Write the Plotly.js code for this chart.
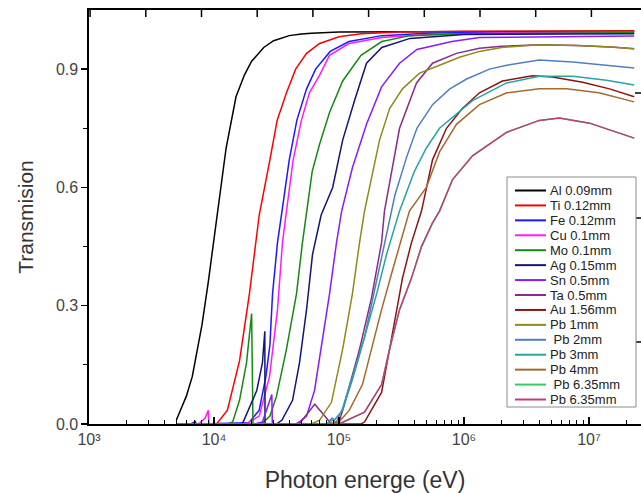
<!DOCTYPE html>
<html><head><meta charset="utf-8">
<script src="https://cdn.plot.ly/plotly-3.0.1.min.js"></script>
<style>html,body{margin:0;padding:0;background:#fff}#chart{width:641px;height:493px}</style>
</head><body><div id="chart"></div>
<script>
// ---- data (photon energy in eV, transmission) ----
const E_Al = [5e3, 6e3, 6.7e3, 7.4e3, 8e3, 9e3, 1e4, 1.05e4, 1.25e4, 1.5e4, 1.75e4, 2e4, 2.25e4, 2.5e4, 3e4, 3.5e4, 4e4, 5e4, 6e4, 1e5, 1e6, 2.3e7];
const T_Al = [0.01, 0.07, 0.12, 0.19, 0.25, 0.36, 0.47, 0.53, 0.70, 0.83, 0.885, 0.92, 0.94, 0.955, 0.972, 0.98, 0.985, 0.989, 0.991, 0.994, 0.996, 0.997];

const E_Ti = [5e3, 1.05e4, 1.28e4, 1.6e4, 1.92e4, 2.3e4, 2.8e4, 3.2e4, 3.8e4, 4.5e4, 5.5e4, 7e4, 1e5, 1.5e5, 3e5, 1e6, 2.3e7];
const T_Ti = [0, 0, 0.035, 0.16, 0.33, 0.53, 0.67, 0.77, 0.84, 0.90, 0.94, 0.965, 0.982, 0.99, 0.994, 0.996, 0.997];

const E_Fe = [5e3, 6.5e3, 7.1e3, 7.2e3, 1.9e4, 2.3e4, 2.6e4, 2.8e4, 2.94e4, 3.22e4, 3.5e4, 4e4, 4.6e4, 5.5e4, 6.5e4, 8.5e4, 1.2e5, 2.2e5, 5e5, 2e6, 2.3e7];
const T_Fe = [0, 0, 0.006, 0, 0.003, 0.035, 0.12, 0.2, 0.33, 0.46, 0.54, 0.67, 0.77, 0.85, 0.90, 0.945, 0.97, 0.985, 0.991, 0.994, 0.995];

const E_Cu = [5e3, 7.5e3, 8.5e3, 9e3, 9.1e3, 1.8e4, 2.3e4, 2.78e4, 3.22e4, 3.53e4, 3.8e4, 4.3e4, 5e4, 5.8e4, 7e4, 8.4e4, 1.2e5, 2.2e5, 5e5, 2e6, 2.3e7];
const T_Cu = [0, 0, 0.015, 0.035, 0, 0, 0.02, 0.12, 0.29, 0.46, 0.54, 0.67, 0.77, 0.84, 0.885, 0.935, 0.965, 0.98, 0.988, 0.992, 0.994];

const E_Mo = [5e3, 1.3e4, 1.41e4, 1.6e4, 1.82e4, 2e4, 2.05e4, 2.4e4, 2.8e4, 3.16e4, 3.8e4, 4.57e4, 5.1e4, 5.6e4, 6.1e4, 7e4, 8.4e4, 1.07e5, 1.5e5, 2.2e5, 3.7e5, 1e6, 2.3e7];
const T_Mo = [0, 0, 0.005, 0.06, 0.155, 0.28, 0, 0, 0.02, 0.07, 0.19, 0.33, 0.46, 0.55, 0.64, 0.71, 0.79, 0.87, 0.935, 0.97, 0.985, 0.99, 0.992];

const E_Ag = [5e3, 1.6e4, 1.7e4, 2.2e4, 2.44e4, 2.55e4, 2.56e4, 3.16e4, 3.5e4, 4.25e4, 4.83e4, 5.5e4, 6.14e4, 7.2e4, 8.9e4, 1.07e5, 1.33e5, 1.66e5, 2.2e5, 3.7e5, 1e6, 2.3e7];
const T_Ag = [0, 0, 0.003, 0.085, 0.155, 0.235, 0, 0, 0.01, 0.06, 0.155, 0.29, 0.43, 0.53, 0.60, 0.72, 0.82, 0.915, 0.955, 0.978, 0.988, 0.99];

const E_Sn = [5e3, 2.1e4, 2.44e4, 2.9e4, 2.93e4, 4.5e4, 4.83e4, 5.5e4, 6.37e4, 7.24e4, 8.4e4, 9.55e4, 1.05e5, 1.28e5, 1.66e5, 2.19e5, 3.05e5, 4.2e5, 8e5, 1.33e6, 2.3e7];
const T_Sn = [0, 0, 0.005, 0.075, 0, 0, 0.005, 0.02, 0.085, 0.2, 0.33, 0.46, 0.54, 0.65, 0.76, 0.855, 0.915, 0.95, 0.97, 0.98, 0.984];

const E_Ta = [5e3, 4.8e4, 6.4e4, 8.7e4, 1e5, 1.07e5, 1.46e5, 1.82e5, 2.19e5, 2.31e5, 3.05e5, 4.17e5, 5.6e5, 8.7e5, 1.33e6, 2e6, 4e6, 8e6, 1.5e7, 2.3e7];
const T_Ta = [0, 0, 0.05, 0, 0.005, 0.035, 0.19, 0.32, 0.46, 0.54, 0.75, 0.865, 0.915, 0.94, 0.953, 0.958, 0.962, 0.96, 0.956, 0.952];

const E_Au = [5e3, 1.5e5, 1.6e5, 2.19e5, 2.54e5, 2.88e5, 3.22e5, 3.8e5, 4.57e5, 5.6e5, 7.24e5, 9.7e5, 1.33e6, 2.03e6, 3.53e6, 5.1e6, 8.9e6, 1.46e7, 2.3e7];
const T_Au = [0, 0, 0.005, 0.08, 0.19, 0.29, 0.37, 0.46, 0.54, 0.67, 0.75, 0.80, 0.84, 0.87, 0.883, 0.88, 0.867, 0.85, 0.83];

const E_Pb1 = [5e3, 6e4, 7e4, 8.7e4, 1.07e5, 1.28e5, 1.46e5, 1.6e5, 2.11e5, 2.54e5, 3.22e5, 4.41e5, 6.37e5, 9.2e5, 1.33e6, 2e6, 4e6, 8e6, 1.5e7, 2.3e7];
const T_Pb1 = [0, 0, 0.01, 0.055, 0.19, 0.33, 0.46, 0.54, 0.72, 0.80, 0.85, 0.89, 0.91, 0.93, 0.945, 0.955, 0.962, 0.96, 0.956, 0.952];

const E_Pb2 = [5e3, 8e4, 8.8e4, 9.2e4, 1.07e5, 1.3e5, 1.6e5, 1.9e5, 2.3e5, 2.8e5, 3.5e5, 4.2e5, 5.6e5, 7.7e5, 1.05e6, 1.6e6, 2.2e6, 4e6, 7.4e6, 1.3e7, 2.3e7];
const T_Pb2 = [0, 0, 0.015, 0.01, 0.035, 0.12, 0.22, 0.33, 0.46, 0.58, 0.68, 0.75, 0.81, 0.85, 0.875, 0.90, 0.91, 0.923, 0.918, 0.91, 0.903];

const E_Pb3 = [5e3, 8e4, 8.8e4, 9.5e4, 1.07e5, 1.28e5, 1.6e5, 2e5, 2.4e5, 3.05e5, 4e5, 5e5, 6.37e5, 1.17e6, 2.19e6, 4e6, 7.4e6, 1.38e7, 2.3e7];
const T_Pb3 = [0, 0, 0.01, 0.005, 0.04, 0.12, 0.22, 0.33, 0.43, 0.54, 0.64, 0.70, 0.75, 0.82, 0.865, 0.882, 0.882, 0.872, 0.86];

const E_Pb4 = [5e3, 8e4, 1e5, 1.21e5, 1.54e5, 1.82e5, 2.19e5, 2.68e5, 3.22e5, 3.66e5, 5e5, 6.37e5, 8.7e5, 1.33e6, 2.2e6, 4e6, 6.6e6, 1.2e7, 2.3e7];
const T_Pb4 = [0, 0, 0.005, 0.035, 0.10, 0.19, 0.29, 0.39, 0.48, 0.54, 0.60, 0.69, 0.76, 0.81, 0.84, 0.85, 0.85, 0.84, 0.817];

const E_Pb6 = [5e3, 1e5, 1.6e5, 2.19e5, 2.54e5, 3.05e5, 3.8e5, 4.57e5, 5.6e5, 6.37e5, 8.1e5, 1.17e6, 2.2e6, 4e6, 5.8e6, 1.01e7, 2.3e7];
const T_Pb6 = [0, 0, 0.03, 0.10, 0.19, 0.29, 0.37, 0.45, 0.51, 0.54, 0.62, 0.68, 0.74, 0.77, 0.776, 0.763, 0.725];

const seriesNames = ['Al 0.09mm', 'Ti 0.12mm', 'Fe 0.12mm', 'Cu 0.1mm', 'Mo 0.1mm', 'Ag 0.15mm', 'Sn 0.5mm', 'Ta 0.5mm', 'Au 1.56mm', 'Pb 1mm', '\u00a0Pb 2mm', 'Pb 3mm', 'Pb 4mm', '\u00a0Pb 6.35mm', 'Pb 6.35mm'];
const seriesE = [E_Al, E_Ti, E_Fe, E_Cu, E_Mo, E_Ag, E_Sn, E_Ta, E_Au, E_Pb1, E_Pb2, E_Pb3, E_Pb4, E_Pb6, E_Pb6];
const seriesT = [T_Al, T_Ti, T_Fe, T_Cu, T_Mo, T_Ag, T_Sn, T_Ta, T_Au, T_Pb1, T_Pb2, T_Pb3, T_Pb4, T_Pb6, T_Pb6];
const seriesColors = ['#000000', '#ff0000', '#1a1aff', '#ff1aff', '#138a13', '#14147a', '#8a1aff', '#8a2a8a', '#8a1414', '#8f8a1a', '#4f7fc0', '#2aa3a3', '#a8682a', '#33cc66', '#c63a7e'];

const xTickVals = [1e3, 1e4, 1e5, 1e6, 1e7];
const xTickText = ['10\u00b3', '10\u2074', '10\u2075', '10\u2076', '10\u2077'];
const yTickVals = [0.0, 0.3, 0.6, 0.9];

// ---- build ----
const traces = seriesNames.map((n, i) => ({
  x: seriesE[i], y: seriesT[i], name: n, type: 'scatter', mode: 'lines',
  line: {color: seriesColors[i], width: 1.5}, showlegend: false
}));

const W = 641, H = 493, ML = 89, MR = 0, MT = 10, MB = 69;
const PW = W - ML - MR, PH = H - MT - MB;
const pxX = px => (px - ML) / PW;
const pxY = py => (H - MB - py) / PH;

const shapes = [];
const annotations = [];
// frame tick marks along the top and the right border (decoration of the frame)
for (let k = 0; k < 10; k++) {
  const px = 90.1 + k * 55.7;
  if (px > W - 2) break;
  shapes.push({type: 'line', xref: 'paper', yref: 'paper', x0: pxX(px), x1: pxX(px), y0: 1, y1: 1 - 7 / PH,
    line: {color: '#000', width: 1.5}, layer: 'above'});
}
[93, 218, 342].forEach(py => {
  shapes.push({type: 'line', xref: 'paper', yref: 'paper', x0: 1, x1: 1 - 6 / PW, y0: pxY(py), y1: pxY(py),
    line: {color: '#000', width: 1.5}, layer: 'above'});
});

// legend box (drawn manually for compact spacing)
const LX0 = 507, LX1 = 636, LY0 = 177, LY1 = 407, row0 = 190.5, rowStep = 14.93;
shapes.push({type: 'rect', xref: 'paper', yref: 'paper', x0: pxX(LX0), x1: pxX(LX1), y0: pxY(LY1), y1: pxY(LY0),
  line: {color: '#8c8c8c', width: 1}, fillcolor: '#ffffff', layer: 'above'});
seriesNames.forEach((n, i) => {
  const yy = pxY(row0 + i * rowStep);
  shapes.push({type: 'line', xref: 'paper', yref: 'paper', x0: pxX(515), x1: pxX(546), y0: yy, y1: yy,
    line: {color: seriesColors[i], width: 2}, layer: 'above'});
  annotations.push({xref: 'paper', yref: 'paper', x: pxX(548), y: yy, xanchor: 'left', yanchor: 'middle',
    text: n, showarrow: false, font: {family: 'Liberation Sans, Arial, sans-serif', size: 13, color: '#222'}});
});

const layout = {
  width: W, height: H,
  margin: {l: ML, r: MR, t: MT, b: MB, pad: 0},
  paper_bgcolor: '#fff', plot_bgcolor: '#fff',
  font: {family: 'Liberation Sans, Arial, sans-serif', color: '#444'},
  showlegend: false,
  xaxis: {
    type: 'log', range: [3, 3 + PW / 125], showgrid: false, zeroline: false,
    showline: true, mirror: true, linecolor: '#000', linewidth: 1.6,
    ticks: 'inside', ticklen: 7, tickwidth: 1.5, tickcolor: '#000',
    tickvals: xTickVals, ticktext: xTickText,
    tickfont: {size: 16, color: '#444'},
    minor: {ticks: 'inside', ticklen: 4, tickwidth: 1.2, tickcolor: '#000', dtick: 'D1', showgrid: false},
    title: {text: 'Photon energe (eV)', font: {size: 23, color: '#333'}, standoff: 26}
  },
  yaxis: {
    range: [0, 1.05], showgrid: false, zeroline: false,
    showline: true, linecolor: '#000', linewidth: 1.6,
    ticks: 'outside', ticklen: 6, tickwidth: 1.5, tickcolor: '#000',
    tickvals: yTickVals, tickformat: '.1f', tickfont: {size: 16, color: '#444'},
    minor: {ticks: 'outside', ticklen: 4, tickwidth: 1.2, tickcolor: '#000', tickvals: [0.15, 0.45, 0.75], showgrid: false},
    title: {text: 'Transmision', font: {size: 21, color: '#333'}, standoff: 16}
  },
  shapes: shapes, annotations: annotations
};

Plotly.newPlot('chart', traces, layout, {displayModeBar: false, staticPlot: true});
</script>
</body></html>
